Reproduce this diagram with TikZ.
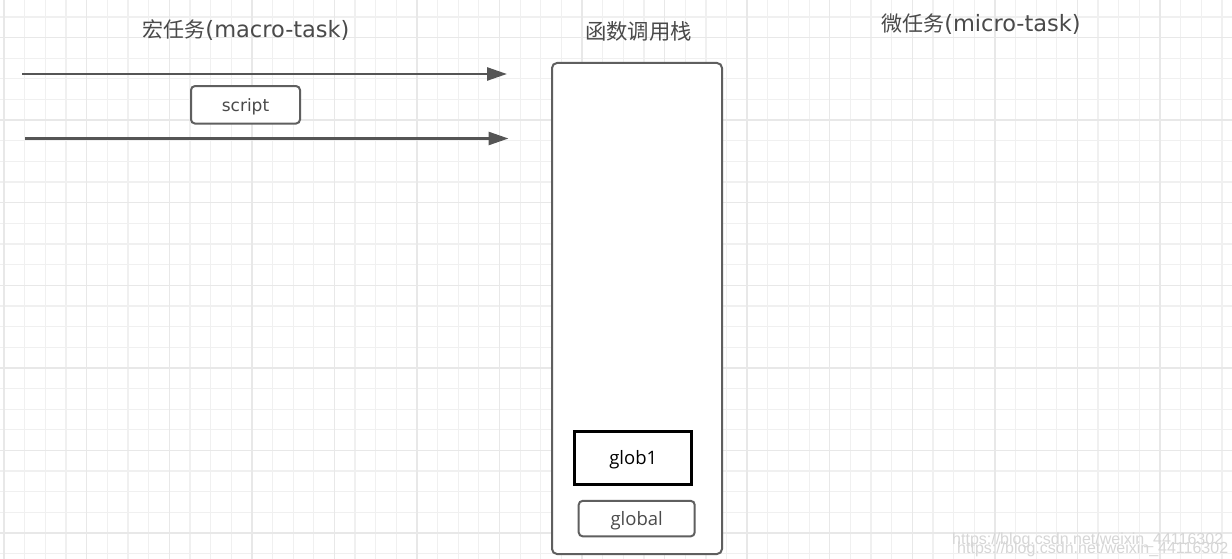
\documentclass[tikz,border=0pt]{standalone}
\usepackage{fontspec}
\setmainfont{DejaVu Sans}
\newfontfamily\cjk{Noto Sans CJK SC}
\newfontfamily\dejavu{DejaVu Sans}
\newfontfamily\opensans{Open Sans}
\newfontfamily\wmfont{Liberation Sans}
\usetikzlibrary{arrows.meta}
\definecolor{gridminor}{HTML}{F0F0F0}
\definecolor{gridmajor}{HTML}{E8E8E8}
\definecolor{txtgray}{HTML}{4A4A4A}
\definecolor{edgegray}{HTML}{5F5F5F}
\definecolor{arrowgray}{HTML}{555555}
\definecolor{wmgray}{HTML}{D6D6D6}
\newcommand{\lowered}[2]{\raisebox{#1}[\height][\depth]{#2}}
\tikzset{
  title/.style={inner sep=0pt, text=txtgray},
  flow/.style={draw=arrowgray, line width=2.6pt, -{Triangle[length=20pt,width=13pt]}},
  roundbox/.style={draw=edgegray, line width=2pt, rounded corners=4pt, fill=white, inner sep=0pt, text=txtgray},
  stackbox/.style={draw=edgegray, line width=2pt, rounded corners=5pt, fill=white, inner sep=0pt},
  framebox/.style={draw=black, line width=3pt, fill=white, inner sep=0pt, text=black},
  watermark/.style={inner sep=0pt, anchor=west, text=wmgray, font=\wmfont\fontsize{16}{18}\selectfont}
}
\begin{document}
\begin{tikzpicture}[x=1pt,y=-1pt]
\useasboundingbox (0,0) rectangle (1232,559);
\fill[white] (0,0) rectangle (1232,559);
% grid
\foreach \k in {-4,...,55} {
  \pgfmathsetmacro\xx{86.7+20.64*\k}
  \draw[gridminor, line width=1.2pt] (\xx,0) -- (\xx,559);
}
\foreach \k in {-9,...,17} {
  \pgfmathsetmacro\yy{202.7+20.64*\k}
  \draw[gridminor, line width=1.2pt] (0,\yy) -- (1232,\yy);
}
\foreach \k in {-4,0,...,52} {
  \pgfmathsetmacro\xx{86.7+20.64*\k}
  \draw[gridmajor, line width=1.4pt] (\xx,0) -- (\xx,559);
}
\foreach \k in {-8,-4,...,16} {
  \pgfmathsetmacro\yy{202.7+20.64*\k}
  \draw[gridmajor, line width=1.4pt] (0,\yy) -- (1232,\yy);
}
% titles
\node[title] (macro) at (246,30) {{\cjk\fontsize{21}{25}\selectfont 宏任务}{\dejavu\fontsize{22.5}{26}\selectfont (macro-task)}};
\node[title] (stacktitle) at (638.5,31) {\cjk\fontsize{21.4}{25}\selectfont 函数调用栈};
\node[title] (micro) at (981,24) {{\cjk\fontsize{21}{25}\selectfont 微任务}{\dejavu\fontsize{22.5}{26}\selectfont (micro-task)}};
% macro-task queue
\coordinate (m1s) at (22,74);
\coordinate (m1e) at (507,74);
\coordinate (m2s) at (25,138.5);
\coordinate (m2e) at (508.5,138.5);
\draw[flow] (m1s) -- (m1e);
\draw[flow] (m2s) -- (m2e);
\node[roundbox, minimum width=109pt, minimum height=37.5pt, font=\dejavu\fontsize{17}{20}\selectfont] (script) at (245.5,104.8) {\lowered{-2.5pt}{script}};
% call stack
\node[stackbox, minimum width=170pt, minimum height=491pt] (stack) at (637,308.5) {};
\node[framebox, minimum width=117pt, minimum height=53pt, font=\opensans\fontsize{18.5}{22}\selectfont] (glob1) at (633.3,458) {\lowered{-1.5pt}{glob1}};
\node[roundbox, minimum width=116pt, minimum height=35.5pt, font=\opensans\fontsize{18.5}{22}\selectfont] (global) at (636.7,518.6) {\lowered{-2.5pt}{global}};
% watermark
\node[watermark] (wm1) at (952,540) {https://blog.csdn.net/weixin\_44116302};
\node[watermark] (wm2) at (957,549) {https://blog.csdn.net/weixin\_44116302};
\end{tikzpicture}
\end{document}
